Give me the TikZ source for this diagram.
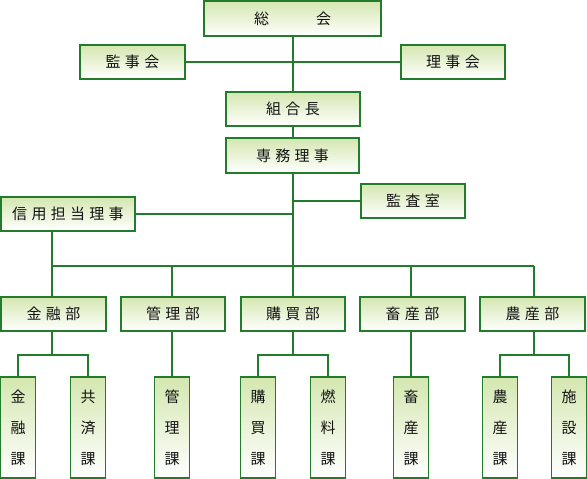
\documentclass[tikz,border=0pt]{standalone}
\usepackage{fontspec}
\setmainfont{Noto Sans CJK JP}
\definecolor{lg}{HTML}{237B2C}
\definecolor{boxtop}{HTML}{D4E7B0}
\newcommand\ls{\kern4.3pt}
\tikzset{
  box/.style={draw=lg, line width=1.6pt, top color=boxtop, bottom color=white,
    inner sep=0pt, text=black!92, font=\fontsize{15}{17}\selectfont},
  hbox/.style={box, minimum height=34pt},
  vbox/.style={box, minimum width=35pt, minimum height=101pt, align=center,
    font=\fontsize{15}{31}\selectfont},
  conn/.style={draw=lg, line width=2pt}
}
\begin{document}
\begin{tikzpicture}[x=1pt,y=-1pt]
\useasboundingbox (0,0) rectangle (587,479);
% top
\node[box, minimum width=177pt, minimum height=35pt] (soukai) at (292.5,18.5) {総\hspace{47pt}会};
\node[hbox, minimum width=105pt] (kanji) at (132.5,62) {監\ls 事\ls 会};
\node[hbox, minimum width=104pt] (riji) at (453,62) {理\ls 事\ls 会};
\node[hbox, minimum width=134pt] (kumiai) at (293,109) {組\ls 合\ls 長};
\node[hbox, minimum width=133pt, minimum height=35pt] (senmu) at (292.5,155.5) {専\ls 務\ls 理\ls 事};
\node[hbox, minimum width=104pt] (kansa) at (413,201) {監\ls 査\ls 室};
\node[hbox, minimum width=134pt] (shinyo) at (68,214) {信\ls 用\ls 担\ls 当\ls 理\ls 事};
% departments
\node[hbox, minimum width=105pt] (d1) at (53.5,314) {金\ls 融\ls 部};
\node[hbox, minimum width=104pt] (d2) at (173,314) {管\ls 理\ls 部};
\node[hbox, minimum width=104pt] (d3) at (293,314) {購\ls 買\ls 部};
\node[hbox, minimum width=105pt] (d4) at (412.5,314) {畜\ls 産\ls 部};
\node[hbox, minimum width=105pt] (d5) at (532.5,314) {農\ls 産\ls 部};
% sections
\node[vbox] (s1) at (18,427.5) {金\\融\\課};
\node[vbox] (s2) at (88,427.5) {共\\済\\課};
\node[vbox] (s3) at (172,427.5) {管\\理\\課};
\node[vbox] (s4) at (258,427.5) {購\\買\\課};
\node[vbox] (s5) at (328,427.5) {燃\\料\\課};
\node[vbox] (s6) at (411,427.5) {畜\\産\\課};
\node[vbox] (s7) at (500,427.5) {農\\産\\課};
\node[vbox] (s8) at (569,427.5) {施\\設\\課};
% coordinates
\coordinate (bus) at (293,266);
\coordinate (busL) at (52,266);
\coordinate (busR) at (534,266);
\coordinate (sb1) at (0,355);
% connectors
\draw[conn] (soukai.south -| bus) -- (kumiai.north -| bus);
\draw[conn] (kanji.east) -- (riji.west);
\draw[conn] (kumiai.south -| bus) -- (senmu.north -| bus);
\draw[conn] (senmu.south -| bus) -- (bus);
\draw[conn] (bus |- kansa.west) -- (kansa.west);
\draw[conn] (shinyo.east) -- (shinyo.east -| bus);
\draw[conn] (shinyo.south -| busL) -- (busL |- d1.north);
\draw[conn] (busL) -- (busR);
\draw[conn] (s3.north |- d2.north) -- (s3.north |- bus);
\draw[conn] (d3.north) -- (d3.north |- bus);
\draw[conn] (s6.north |- d4.north) -- (s6.north |- bus);
\draw[conn] (busR |- d5.north) -- (busR);
% sub buses
\draw[conn] (busL |- d1.south) -- (busL |- sb1);
\draw[conn] (s1.north) -- (s1.north |- sb1) -- (s2.north |- sb1) -- (s2.north);
\draw[conn] (s3.north |- d2.south) -- (s3.north);
\draw[conn] (d3.south) -- (d3.south |- sb1);
\draw[conn] (s4.north) -- (s4.north |- sb1) -- (s5.north |- sb1) -- (s5.north);
\draw[conn] (s6.north |- d4.south) -- (s6.north);
\draw[conn] (busR |- d5.south) -- (busR |- sb1);
\draw[conn] (s7.north) -- (s7.north |- sb1) -- (s8.north |- sb1) -- (s8.north);
\end{tikzpicture}
\end{document}
